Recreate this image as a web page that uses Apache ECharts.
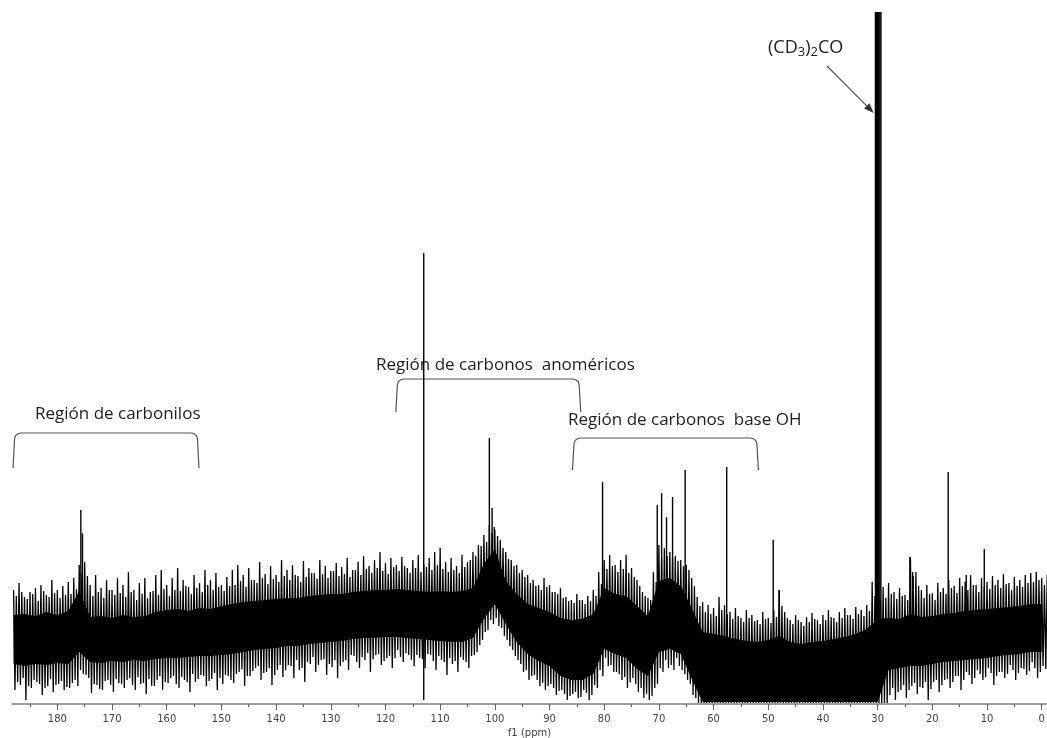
<!DOCTYPE html>
<html><head><meta charset="utf-8">
<script src="https://cdn.jsdelivr.net/npm/echarts@6/dist/echarts.min.js"></script>
<style>html,body{margin:0;padding:0;background:#fff}#c{width:1047px;height:738px}</style>
</head><body><div id="c"></div>
<script>
// ---- data (intensity in arbitrary units, 0 = baseline of the axis) ----
const noiseStartPpm = 188;
const noiseStepPpm = 1;
// main spike maxima / minima per ppm (188 -> -1)
const noiseTop = [
114,121,107,112,116,119,109,124,114,118,
122,126,139,142,119,129,116,124,114,126,
119,132,114,121,126,112,129,134,119,126,
136,124,117,129,121,134,124,131,119,127,
134,139,129,136,124,142,130,138,129,144,
134,139,128,143,136,131,144,138,133,141,
137,146,134,142,148,138,144,152,141,146,
139,147,136,144,149,139,146,152,156,142,
146,138,149,142,152,159,169,179,174,164,
152,144,139,134,129,124,119,126,119,112,
116,107,104,110,104,108,114,132,144,149,
139,144,149,136,124,112,106,132,159,156,
152,148,144,139,126,107,102,99,96,107,
99,92,96,86,94,89,84,92,86,94,
114,92,84,89,82,87,91,84,89,94,
86,92,96,89,97,94,99,122,114,117,
121,112,116,109,147,132,114,119,111,121,
116,124,118,126,122,129,119,126,122,128,
124,130,121,127,124,129,131,132,126,129];
const noiseBottom = [
14,19,4,16,22,9,18,12,20,14,
16,24,34,29,11,19,14,24,12,21,
16,26,14,20,10,18,24,14,21,28,
16,24,12,22,29,18,25,14,20,28,
21,32,18,28,36,24,32,19,34,27,
39,26,34,22,40,32,44,29,37,26,
42,34,48,36,44,32,49,39,46,36,
54,42,49,38,46,36,49,34,44,29,
40,32,44,36,49,59,72,84,86,76,
64,54,44,32,24,29,18,14,20,9,
14,4,10,6,14,4,19,34,46,39,
32,24,16,26,12,6,4,16,36,44,
39,46,34,24,9,1,1,1,1,1,
1,1,1,1,1,1,1,1,1,1,
1,1,1,1,1,1,1,1,1,1,
1,1,1,1,1,1,1,1,1,1,
9,4,14,6,18,10,16,4,22,12,
24,16,28,14,32,20,34,24,36,19,
32,26,39,24,36,29,42,26,38,32];
// secondary (smaller) spikes, half a ppm further on
const noiseTop2 = [
108,112,105,110,103,113,107,111,106,109,
110,115,131,128,108,112,106,114,109,111,
107,112,104,110,106,113,109,115,108,114,
113,118,110,116,112,119,114,117,113,118,
119,123,117,124,121,126,120,125,122,128,
124,129,122,127,131,125,130,126,133,128,
130,127,134,129,135,131,136,133,130,137,
133,138,131,136,132,137,134,139,135,132,
134,131,137,144,148,158,162,171,168,156,
145,138,131,127,121,118,114,117,112,110,
106,103,101,104,100,103,108,120,135,138,
132,135,131,127,118,108,104,122,146,148,
146,143,138,134,118,98,92,90,88,94,
90,85,88,82,86,83,80,85,81,87,
98,86,80,84,78,82,85,80,84,87,
82,86,89,85,90,88,93,108,105,106,
110,105,108,104,128,118,106,110,104,112,
110,116,111,118,114,119,112,117,115,119,
116,120,114,118,117,121,122,124,119,121];
const noiseBottom2 = [
22,26,18,24,20,16,25,19,23,17,
21,18,30,26,20,15,23,19,25,20,
24,19,27,21,25,18,28,22,26,20,
27,22,30,25,28,23,31,26,29,24,
30,35,28,33,38,31,36,29,39,34,
38,44,36,42,47,39,45,40,44,38,
44,49,42,47,51,45,50,43,48,46,
47,51,44,49,45,50,43,48,42,46,
43,47,42,48,52,64,74,80,78,68,
58,48,40,34,28,24,21,18,16,13,
10,8,12,7,11,9,16,28,38,32,
30,27,22,20,16,10,8,20,32,36,
34,38,30,20,6,1,1,1,1,1,
1,1,1,1,1,1,1,1,1,1,
1,1,1,1,1,1,1,1,1,1,
1,1,1,1,1,1,1,1,1,1,
16,12,19,14,21,17,22,15,24,19,
25,22,28,24,29,26,30,27,31,28,
32,30,34,31,35,33,36,32,35,34];
// dense (solid) part of the noise band, every 2 ppm (188 -> 0)
const coreStartPpm = 188;
const coreStepPpm = 2;
const coreTop = [
89,90,88,92,89,93,113,87,88,86,
89,87,88,92,94,95,93,96,95,98,
100,102,103,104,105,106,106,108,109,110,
110,112,113,114,114,115,114,113,112,113,
112,113,116,140,155,123,110,100,96,92,
86,84,85,90,116,110,108,98,88,123,
126,118,96,72,70,68,65,63,62,64,
68,62,60,62,63,65,67,70,75,85,
86,85,90,87,88,90,91,93,94,95,
96,97,98,100,100];
const coreBottom = [
40,38,40,39,41,40,52,42,41,43,
42,44,43,45,46,46,47,48,48,49,
50,52,54,55,56,58,58,60,61,62,
63,65,66,66,67,67,66,65,64,63,
62,62,66,85,100,80,62,50,43,38,
28,24,24,30,55,50,46,35,28,52,
55,50,25,2,2,2,2,2,2,2,
2,2,2,2,2,2,2,2,2,2,
34,36,38,38,40,42,43,44,45,46,
48,49,50,52,52];
// [ppm, top intensity, base intensity]
const peaks = [
[175.7,194,80],[175.4,171,80],
[113.0,451,4],
[101.0,266,100],[100.5,196,100],[100.1,177,100],
[80.3,222,80],
[70.3,199,100],[69.5,211,100],[68.6,187,100],[67.5,207,100],[65.2,234,90],
[57.6,237,60],[49.1,164,60],[48.0,114,60],
[30.4,692,84],[30.2,692,84],[30.0,692,84],[29.8,692,84],[29.6,692,84],[29.4,692,84],
[24.1,147,60],[23.6,132,60],[17.1,232,60],[13.8,129,60],[10.5,155,60]];
const majorTicks = [0,10,20,30,40,50,60,70,80,90,100,110,120,130,140,150,160,170,180];
const minorTicks = [5,15,25,35,45,55,65,75,85,95,105,115,125,135,145,155,165,175,185];
const axisTitle = 'f1 (ppm)';
const regionLabels = ['Región de carbonilos', 'Región de carbonos  anoméricos', 'Región de carbonos  base OH'];
const regionRanges = [[188.1,154.1],[118.1,84.3],[85.8,51.8]];
const solventLabel = '(CD{s|3}){s|2}CO';
const solventPpm = 29.8;

// ---- build the trace from the read values ----
const zig = [];
noiseTop.forEach((v, i) => {
  const p = noiseStartPpm - i * noiseStepPpm;
  zig.push([p, v]);
  zig.push([p - noiseStepPpm * 0.25, noiseBottom[i]]);
  zig.push([p - noiseStepPpm * 0.5, noiseTop2[i]]);
  zig.push([p - noiseStepPpm * 0.75, noiseBottom2[i]]);
});

const chart = echarts.init(document.getElementById('c'), null, {renderer: 'canvas'});
const X_MIN = -0.97, X_MAX = 188.29;
const tickColor = '#666';
chart.setOption({
  animation: false,
  backgroundColor: '#fff',
  grid: {left: 12, right: 0, top: 12, bottom: 34, outerBoundsMode: 'none', containLabel: false},
  xAxis: [{
    type: 'value', inverse: true, min: X_MIN, max: X_MAX,
    axisLine: {lineStyle: {color: '#808080', width: 1.5}},
    axisTick: {customValues: majorTicks, length: 6, lineStyle: {color: tickColor, width: 1}},
    axisLabel: {customValues: majorTicks, fontFamily: 'DejaVu Sans', fontSize: 10, color: '#444', margin: 10},
    splitLine: {show: false},
    name: axisTitle, nameLocation: 'middle', nameGap: 21,
    nameTextStyle: {fontFamily: 'DejaVu Sans', fontSize: 10, color: '#444'}
  }, {
    type: 'value', inverse: true, min: X_MIN, max: X_MAX, position: 'bottom', gridIndex: 0,
    axisLine: {show: false},
    axisTick: {customValues: minorTicks, length: 3, lineStyle: {color: tickColor, width: 1}},
    axisLabel: {show: false}, splitLine: {show: false}
  }],
  yAxis: {type: 'value', min: 0, max: 692, show: false},
  series: [{
    type: 'custom', xAxisIndex: 0, silent: true, z: 2,
    data: [[50, 50]],
    renderItem: (params, api) => {
      const pts = [];
      coreTop.forEach((v, i) => pts.push(api.coord([coreStartPpm - i * coreStepPpm, v])));
      for (let i = coreBottom.length - 1; i >= 0; i--) pts.push(api.coord([coreStartPpm - i * coreStepPpm, coreBottom[i]]));
      return {type: 'polygon', shape: {points: pts}, style: {fill: '#000'}};
    }
  }, {
    type: 'line', xAxisIndex: 0, data: zig, showSymbol: false, symbol: 'none', z: 3,
    lineStyle: {color: '#000', width: 1.3}, clip: true, silent: true
  }, {
    type: 'custom', xAxisIndex: 0, silent: true, z: 4, data: peaks, encode: {x: 0, y: 1},
    renderItem: (params, api) => {
      const p = api.value(0), t = api.value(1), b = api.value(2);
      const a = api.coord([p, b]), c = api.coord([p, t]);
      return {type: 'line', shape: {x1: a[0], y1: a[1], x2: c[0], y2: c[1]}, style: {stroke: '#000', lineWidth: 1.4}};
    }
  }]
});

// ---- annotations (anchored on the ppm scale) ----
const xp = ppm => chart.convertToPixel({gridIndex: 0}, [ppm, 0])[0];
const annFont = '"Open Sans", Lato, sans-serif';
const annColor = '#1e1e1e';
const textPos = [[35, 414], [376, 365], [568, 420]];
const bracketY = [[433, 468], [379, 412], [438, 470]];
const g = [];
regionLabels.forEach((t, i) => {
  g.push({type: 'text', x: textPos[i][0], y: textPos[i][1], silent: true,
    style: {text: t, fill: annColor, font: '17px ' + annFont, verticalAlign: 'middle', align: 'left'}});
  const xl = xp(regionRanges[i][0]), xr = xp(regionRanges[i][1]);
  const yt = bracketY[i][0], yb = bracketY[i][1];
  const pts = [[xl, yb], [xl + 1.5, yt + 6], [xl + 2.5, yt + 2.5], [xl + 5, yt + 0.7], [xl + 8, yt],
               [xr - 8, yt], [xr - 5, yt + 0.7], [xr - 2.5, yt + 2.5], [xr - 1.5, yt + 6], [xr, yb]];
  g.push({type: 'polyline', silent: true, shape: {points: pts}, style: {fill: null, stroke: '#555', lineWidth: 1.2}});
});
g.push({type: 'text', x: 768, y: 48, silent: true,
  style: {text: solventLabel, fill: annColor, font: '18px ' + annFont, verticalAlign: 'middle', align: 'left',
    lineHeight: 22, rich: {s: {fontSize: 13, fontFamily: 'Open Sans', lineHeight: 13, verticalAlign: 'bottom', fill: annColor}}}});
// arrow to the solvent peak
const tip = [xp(solventPpm) - 5, 113], tail = [827, 66];
const dx = tip[0] - tail[0], dy = tip[1] - tail[1], L = Math.hypot(dx, dy);
const ux = dx / L, uy = dy / L, hl = 10, hw = 3.8;
const bx = tip[0] - ux * hl, by = tip[1] - uy * hl;
g.push({type: 'line', silent: true, shape: {x1: tail[0], y1: tail[1], x2: bx, y2: by}, style: {stroke: '#555', lineWidth: 1.2}});
g.push({type: 'polygon', silent: true, shape: {points: [tip, [bx - uy * hw, by + ux * hw], [bx + uy * hw, by - ux * hw]]}, style: {fill: '#333'}});
chart.setOption({graphic: g});
</script>
</body></html>
